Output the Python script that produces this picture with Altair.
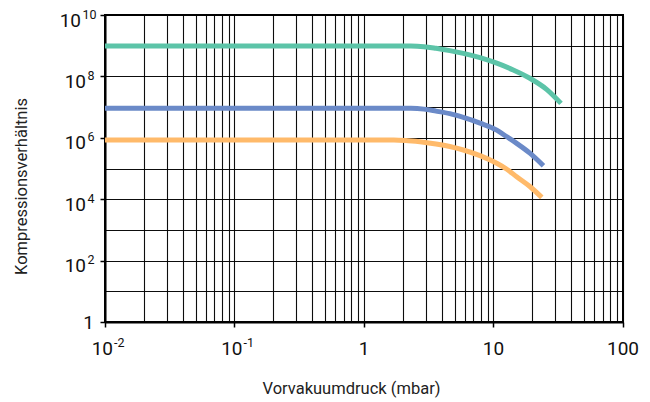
import altair as alt
import pandas as pd

# ---- data ----
green_x = [0.01, 2.30, 2.90, 3.60, 4.60, 5.85, 7.87, 10.6, 14.2, 19.1, 25.7, 33.2]
green_y = [9.77e8, 9.77e8, 9.3e8, 8.2e8, 6.9e8, 5.62e8, 4.07e8, 2.69e8, 1.62e8, 8.7e7, 3.8e7, 1.32e7]

blue_x = [0.01, 2.30, 2.90, 3.60, 4.60, 5.85, 7.87, 10.6, 12.6, 15.1, 19.1, 24.3]
blue_y = [9.1e6, 9.1e6, 8.6e6, 7.4e6, 6.1e6, 4.6e6, 3.0e6, 1.78e6, 1.10e6, 6.6e5, 3.16e5, 1.23e5]

orange_x = [0.01, 1.70, 2.20, 2.80, 3.60, 4.60, 5.85, 7.87, 10.6, 12.6, 15.1, 19.1, 23.6]
orange_y = [8.5e5, 8.5e5, 8.0e5, 7.3e5, 6.3e5, 5.2e5, 4.0e5, 2.62e5, 1.48e5, 9.6e4, 5.4e4, 2.6e4, 1.15e4]

series_names = ["A", "B", "C"]
series_colors = ["#5cc4a8", "#6b8ac8", "#ffba6a"]

x_label_values = [0.01, 0.1, 1, 10, 100]
x_label_base = ["10", "10", "1", "10", "100"]
x_label_exp = ["-2", "-1", "", "", ""]

y_label_values = [1, 1e2, 1e4, 1e6, 1e8, 1e10]
y_label_base = ["1", "10", "10", "10", "10", "10"]
y_label_exp = ["", "2", "4", "6", "8", "10"]

x_title = "Vorvakuumdruck (mbar)"
y_title = "Kompressionsverhältnis"

# grid positions (1..9 per decade) and decade lines
x_grid = [m * 10.0 ** e for e in range(-2, 2) for m in range(1, 10)] + [100.0]
y_grid = [10.0 ** e for e in range(0, 11)]

rows = []
for name, xs, ys in zip(series_names, [green_x, blue_x, orange_x], [green_y, blue_y, orange_y]):
    for i, (a, b) in enumerate(zip(xs, ys)):
        rows.append({"s": name, "x": a, "y": b, "o": i})
df = pd.DataFrame(rows)

xl = pd.DataFrame({"v": x_label_values, "base": x_label_base, "exp": x_label_exp})
yl = pd.DataFrame({"v": y_label_values, "base": y_label_base, "exp": y_label_exp})

W, H = 518, 307
LABEL_FONT = "Roboto"
TITLE_FONT = "Roboto"

xscale = alt.Scale(type="log", domain=[0.01, 100], nice=False)
yscale = alt.Scale(type="log", domain=[1, 1e10], nice=False)

decade_test = "abs(log(datum.value)/LN10 - round(log(datum.value)/LN10)) < 0.001"
even_test = "abs(log(datum.value)/LN10/2 - round(log(datum.value)/LN10/2)) < 0.001"

xaxis = alt.Axis(
    values=x_grid, grid=True, gridColor="#000", gridWidth=1.1, gridOpacity=0.95,
    labels=False, domain=True, domainColor="#000", domainWidth=2,
    ticks=True, tickColor="#000", tickWidth=1.5, tickSize=5,
    tickOpacity={"condition": {"test": decade_test, "value": 1}, "value": 0},
    title=x_title, titleFont=TITLE_FONT, titleFontSize=16.5, titleFontWeight="normal",
    titleColor="#222", titleX=246, titleY=71, titleBaseline="alphabetic", titleAlign="center",
)
yaxis = alt.Axis(
    values=y_grid, grid=True, gridColor="#000", gridWidth=1, gridOpacity=0.95,
    labels=False, domain=True, domainColor="#000", domainWidth=2,
    ticks=True, tickColor="#000", tickWidth=1.5, tickSize=5,
    tickOpacity={"condition": {"test": even_test, "value": 1}, "value": 0},
    title=y_title, titleFont=TITLE_FONT, titleFontSize=16.5, titleFontWeight="normal",
    titleColor="#222", titleX=-84, titleY=171, titleBaseline="middle", titleAlign="center",
    titleAngle=270,
)

lines = alt.Chart(df).mark_line(strokeWidth=5, interpolate="monotone", strokeCap="butt").encode(
    x=alt.X("x:Q", scale=xscale, axis=xaxis),
    y=alt.Y("y:Q", scale=yscale, axis=yaxis),
    color=alt.Color("s:N", scale=alt.Scale(domain=series_names, range=series_colors), legend=None),
    order="o:Q",
)

def txt(data, **kw):
    return alt.Chart(data).mark_text(font=LABEL_FONT, color="#111", **kw)

XF = dict(scale=xscale, axis=xaxis)
YF = dict(scale=yscale, axis=yaxis)
BASE_FS = 19
EXP_FS = 12.5

# x labels
x_plain = txt(xl, align="center", baseline="alphabetic", fontSize=BASE_FS).transform_filter("datum.exp == ''").encode(
    x=alt.X("v:Q", **XF), y=alt.value(H + 33), text="base:N")
x_base = txt(xl, align="right", baseline="alphabetic", fontSize=BASE_FS, dx=8).transform_filter("datum.exp != ''").encode(
    x=alt.X("v:Q", **XF), y=alt.value(H + 33), text="base:N")
x_exp = txt(xl, align="left", baseline="alphabetic", fontSize=EXP_FS, dx=9).transform_filter("datum.exp != ''").encode(
    x=alt.X("v:Q", **XF), y=alt.value(H + 25), text="exp:N")

# y labels
y_plain = txt(yl, align="right", baseline="alphabetic", fontSize=BASE_FS, dy=6.5).transform_filter("datum.exp == ''").encode(
    y=alt.Y("v:Q", **YF), x=alt.value(-11), text="base:N")
y_base1 = txt(yl, align="right", baseline="alphabetic", fontSize=BASE_FS, dy=11.5).transform_filter("length(datum.exp) == 1").encode(
    y=alt.Y("v:Q", **YF), x=alt.value(-19), text="base:N")
y_exp1 = txt(yl, align="left", baseline="alphabetic", fontSize=EXP_FS, dy=3.5).transform_filter("length(datum.exp) == 1").encode(
    y=alt.Y("v:Q", **YF), x=alt.value(-17.5), text="exp:N")
y_base2 = txt(yl, align="right", baseline="alphabetic", fontSize=BASE_FS, dy=11.5).transform_filter("length(datum.exp) == 2").encode(
    y=alt.Y("v:Q", **YF), x=alt.value(-24), text="base:N")
y_exp2 = txt(yl, align="left", baseline="alphabetic", fontSize=EXP_FS, dy=3.5).transform_filter("length(datum.exp) == 2").encode(
    y=alt.Y("v:Q", **YF), x=alt.value(-22.5), text="exp:N")

chart = alt.layer(lines, x_plain, x_base, x_exp, y_plain, y_base1, y_exp1, y_base2, y_exp2).properties(
    width=W, height=H,
    autosize=alt.AutoSizeParams(type="none"),
    padding={"left": 105, "top": 15, "right": 27, "bottom": 80},
    background="white",
).configure_view(stroke="#000", strokeWidth=2)

chart.save("out.html", embed_options={"renderer": "svg", "actions": False})
